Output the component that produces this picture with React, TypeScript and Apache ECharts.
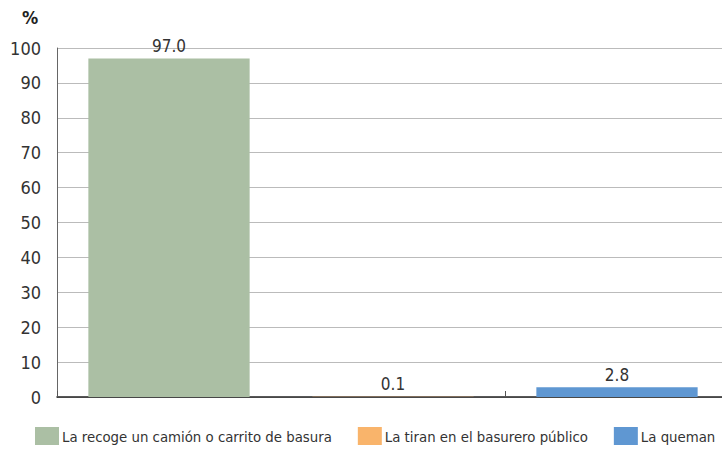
import React, { useEffect, useRef } from "react";
import * as echarts from "echarts";

const categories = ["La recoge un camión o carrito de basura", "La tiran en el basurero público", "La queman"];
const values = [97.0, 0.1, 2.8];
const colors = ["#abbfa4", "#f9b46b", "#5f97d2"];
const yTicks = { min: 0, max: 100, interval: 10 };

const FONT = "'DejaVu Sans Condensed', 'Liberation Sans Narrow', sans-serif";

export default function App() {
  const ref = useRef<HTMLDivElement>(null);
  useEffect(() => {
    if (!ref.current) return;
    const chart = echarts.init(ref.current, null, { renderer: "svg" });
    const series = categories.map((name, i) => ({
      name,
      type: "bar",
      stack: "all",
      barWidth: "72%",
      itemStyle: { color: colors[i] },
      data: categories.map((_, j) => (j === i ? values[i] : "-")),
      label: {
        show: true,
        position: "top",
        distance: 4,
        color: "#333",
        fontFamily: FONT,
        fontSize: 17,
        formatter: (p: any) => Number(p.value).toFixed(1),
      },
    }));
    chart.setOption({
      animation: false,
      textStyle: { fontFamily: FONT },
      grid: { left: 57, top: 48, width: 672, height: 349, outerBoundsMode: "none", containLabel: false },
      graphic: [
        {
          type: "text",
          left: 22,
          top: 8,
          style: { text: "%", fontFamily: FONT, fontSize: 18, fontWeight: "bold", fill: "#222" },
        },
      ],
      legend: {
        left: 35,
        top: 427,
        padding: 0,
        itemWidth: 24,
        itemHeight: 18,
        itemGap: 26,
        itemStyle: { borderWidth: 0 },
        icon: "rect",
        textStyle: { fontFamily: FONT, fontSize: 14.8, color: "#333", padding: [0, 0, 0, -2] },
        data: categories,
      },
      xAxis: {
        type: "category",
        data: categories,
        axisLine: { lineStyle: { color: "#222", width: 1.5 } },
        axisTick: { show: true, inside: true, length: 6, lineStyle: { color: "#555" } },
        axisLabel: { show: false },
      },
      yAxis: {
        type: "value",
        min: yTicks.min,
        max: yTicks.max,
        interval: yTicks.interval,
        axisLine: { show: true, lineStyle: { color: "#666" } },
        axisTick: { show: false },
        axisLabel: { color: "#333", fontFamily: FONT, fontSize: 18, margin: 16 },
        splitLine: { lineStyle: { color: "#bbb" } },
      },
      series,
    });
    return () => chart.dispose();
  }, []);
  return <div ref={ref} style={{ width: 722, height: 451, position: "absolute", left: 0, top: 0 }} />;
}
